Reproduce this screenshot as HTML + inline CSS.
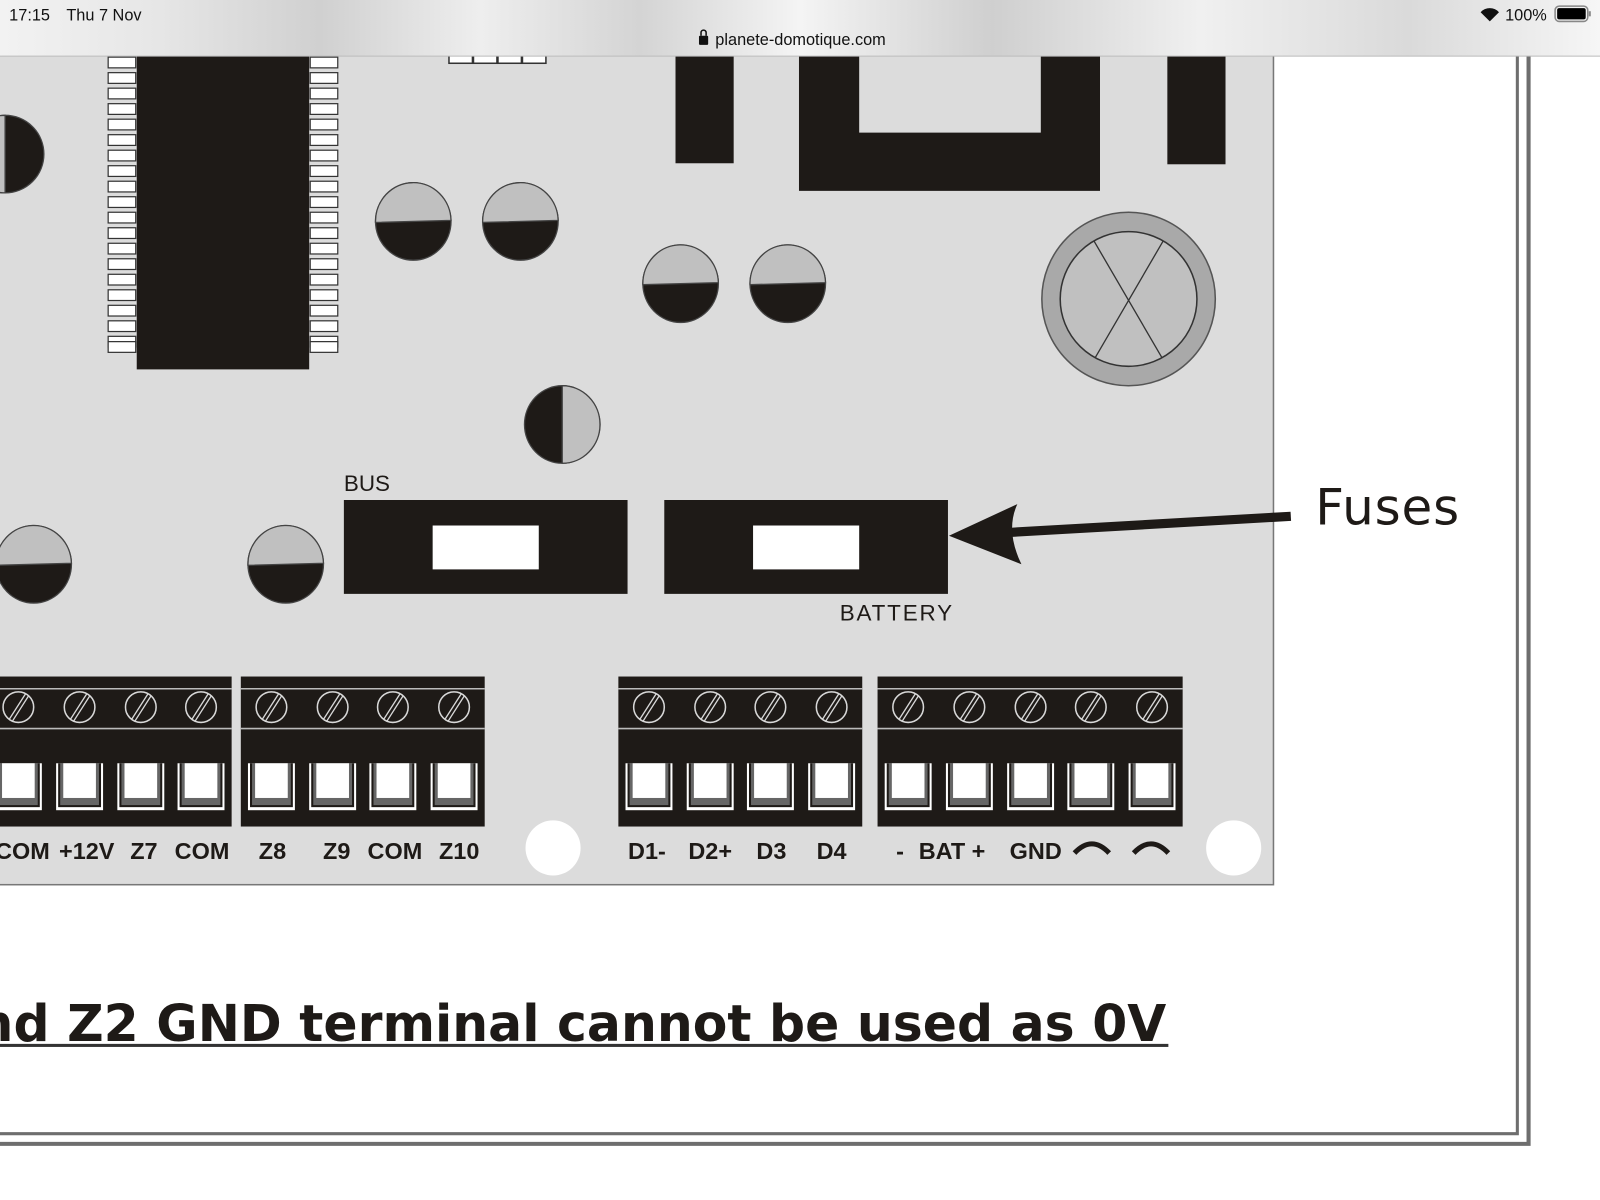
<!DOCTYPE html>
<html><head><meta charset="utf-8"><style>
html,body{margin:0;padding:0;background:#fff;overflow:hidden}
svg{display:block}
</style></head><body>
<svg width="1600" height="1200" viewBox="0 0 1568 1176" preserveAspectRatio="none" xmlns="http://www.w3.org/2000/svg">
<defs>
<linearGradient id="sb" x1="0" x2="1" y1="0" y2="0">
<stop offset="0" stop-color="#f2f2f2"/><stop offset="0.1" stop-color="#e6e6e6"/><stop offset="0.2" stop-color="#d0d0d0"/><stop offset="0.3" stop-color="#eeeeee"/><stop offset="0.4" stop-color="#d4d4d4"/><stop offset="0.5" stop-color="#f4f4f4"/><stop offset="0.62" stop-color="#cfcfcf"/><stop offset="0.75" stop-color="#f0f0f0"/><stop offset="0.88" stop-color="#dadada"/><stop offset="1" stop-color="#f6f6f6"/>
</linearGradient>
<g id="term">
<circle cx="0" cy="693" r="15" fill="none" stroke="#d8d8d8" stroke-width="1.5"/>
<line x1="-9" y1="705" x2="7" y2="680" stroke="#d8d8d8" stroke-width="1.3"/>
<line x1="-6" y1="707" x2="10" y2="682" stroke="#d8d8d8" stroke-width="1.3"/>
<rect x="-23" y="748" width="46" height="46" fill="#fff"/>
<rect x="-21" y="748" width="42" height="43" fill="#1e1a17"/>
<rect x="-19" y="748" width="38" height="41" fill="#666"/>
<rect x="-16" y="748" width="32" height="34" fill="#fff"/>
</g>
<g id="pin"><rect x="0" y="0" width="27" height="10.5" fill="#fff" stroke="#333" stroke-width="1.2"/></g>
</defs>
<rect width="1568" height="1176" fill="#fff"/>
<rect x="-2" y="40" width="1250" height="827" fill="#dcdcdc" stroke="#777" stroke-width="1.5"/>
<path d="M1487 40 V1111 H0" fill="none" stroke="#6e6e6e" stroke-width="3"/>
<path d="M1498 40 V1121 H0" fill="none" stroke="#6e6e6e" stroke-width="4"/>
<g fill="#fff" stroke="#333" stroke-width="1.5">
<rect x="440" y="50" width="23" height="12"/><rect x="464" y="50" width="23" height="12"/><rect x="488" y="50" width="23" height="12"/><rect x="512" y="50" width="23" height="12"/>
</g>
<g>
<use href="#pin" x="106" y="56"/><use href="#pin" x="106" y="71.2"/><use href="#pin" x="106" y="86.4"/><use href="#pin" x="106" y="101.6"/><use href="#pin" x="106" y="116.8"/><use href="#pin" x="106" y="132"/><use href="#pin" x="106" y="147.2"/><use href="#pin" x="106" y="162.4"/><use href="#pin" x="106" y="177.6"/><use href="#pin" x="106" y="192.8"/><use href="#pin" x="106" y="208"/><use href="#pin" x="106" y="223.2"/><use href="#pin" x="106" y="238.4"/><use href="#pin" x="106" y="253.6"/><use href="#pin" x="106" y="268.8"/><use href="#pin" x="106" y="284"/><use href="#pin" x="106" y="299.2"/><use href="#pin" x="106" y="314.4"/><use href="#pin" x="106" y="329.6"/><use href="#pin" x="106" y="334.8"/>
<use href="#pin" x="304" y="56"/><use href="#pin" x="304" y="71.2"/><use href="#pin" x="304" y="86.4"/><use href="#pin" x="304" y="101.6"/><use href="#pin" x="304" y="116.8"/><use href="#pin" x="304" y="132"/><use href="#pin" x="304" y="147.2"/><use href="#pin" x="304" y="162.4"/><use href="#pin" x="304" y="177.6"/><use href="#pin" x="304" y="192.8"/><use href="#pin" x="304" y="208"/><use href="#pin" x="304" y="223.2"/><use href="#pin" x="304" y="238.4"/><use href="#pin" x="304" y="253.6"/><use href="#pin" x="304" y="268.8"/><use href="#pin" x="304" y="284"/><use href="#pin" x="304" y="299.2"/><use href="#pin" x="304" y="314.4"/><use href="#pin" x="304" y="329.6"/><use href="#pin" x="304" y="334.8"/>
</g>
<rect x="134" y="40" width="169" height="322" fill="#1e1a17"/>
<g fill="#1e1a17">
<rect x="662" y="40" width="57" height="120"/>
<path d="M783 40 H1078 V187 H783 Z M842 40 V130 H1020 V40 Z" fill-rule="evenodd"/>
<rect x="1144" y="40" width="57" height="121"/>
</g>
<g stroke="#444" stroke-width="1.3">
<g transform="translate(5,151)"><circle r="38" fill="#1e1a17"/><path d="M0 -38 A38 38 0 0 0 0 38 Z" fill="#c0c0c0"/></g>
<g transform="translate(405,217)"><ellipse rx="37" ry="38" fill="#1e1a17"/><path d="M-37 1 A37 38 0 0 1 37 -1 Z" fill="#c0c0c0"/></g>
<g transform="translate(510,217)"><ellipse rx="37" ry="38" fill="#1e1a17"/><path d="M-37 1 A37 38 0 0 1 37 -1 Z" fill="#c0c0c0"/></g>
<g transform="translate(667,278)"><ellipse rx="37" ry="38" fill="#1e1a17"/><path d="M-37 1 A37 38 0 0 1 37 -1 Z" fill="#c0c0c0"/></g>
<g transform="translate(772,278)"><ellipse rx="37" ry="38" fill="#1e1a17"/><path d="M-37 1 A37 38 0 0 1 37 -1 Z" fill="#c0c0c0"/></g>
<g transform="translate(33,553)"><ellipse rx="37" ry="38" fill="#1e1a17"/><path d="M-37 1 A37 38 0 0 1 37 -1 Z" fill="#c0c0c0"/></g>
<g transform="translate(280,553)"><ellipse rx="37" ry="38" fill="#1e1a17"/><path d="M-37 1 A37 38 0 0 1 37 -1 Z" fill="#c0c0c0"/></g>
<g transform="translate(551,416)"><ellipse rx="37" ry="38" fill="#1e1a17"/><path d="M0 -38 A37 38 0 0 1 0 38 Z" fill="#c0c0c0"/></g>
</g>
<ellipse cx="1106" cy="293" rx="85" ry="85" fill="#a9a9a9" stroke="#555" stroke-width="1.5"/>
<ellipse cx="1106" cy="293" rx="67" ry="66" fill="#c0c0c0" stroke="#333" stroke-width="1.5"/>
<line x1="1072" y1="236" x2="1139" y2="351" stroke="#333" stroke-width="1.3"/>
<line x1="1140" y1="236" x2="1073" y2="351" stroke="#333" stroke-width="1.3"/>
<text x="337" y="481" font-family="Liberation Sans, sans-serif" font-size="22" fill="#1e1a17">BUS</text>
<rect x="337" y="490" width="278" height="92" fill="#1e1a17"/>
<rect x="424" y="515" width="104" height="43" fill="#fff"/>
<rect x="651" y="490" width="278" height="92" fill="#1e1a17"/>
<rect x="738" y="515" width="104" height="43" fill="#fff"/>
<text x="823" y="608" font-family="Liberation Sans, sans-serif" font-size="22" fill="#1e1a17" textLength="110">BATTERY</text>
<line x1="1265" y1="506" x2="985" y2="522" stroke="#1e1a17" stroke-width="9"/>
<path d="M930 525 L997 494 Q985 520 1001 553 Z" fill="#1e1a17"/>
<text x="1289" y="514" font-family="DejaVu Sans, sans-serif" font-size="49" fill="#1e1a17" textLength="141">Fuses</text>
<g fill="#1e1a17">
<rect x="-5" y="663" width="232" height="147"/>
<rect x="236" y="663" width="239" height="147"/>
<rect x="606" y="663" width="239" height="147"/>
<rect x="860" y="663" width="299" height="147"/>
</g>
<g stroke="#bbb" stroke-width="1.5">
<line x1="-5" y1="675" x2="227" y2="675"/><line x1="-5" y1="714" x2="227" y2="714"/>
<line x1="236" y1="675" x2="475" y2="675"/><line x1="236" y1="714" x2="475" y2="714"/>
<line x1="606" y1="675" x2="845" y2="675"/><line x1="606" y1="714" x2="845" y2="714"/>
<line x1="860" y1="675" x2="1159" y2="675"/><line x1="860" y1="714" x2="1159" y2="714"/>
</g>
<use href="#term" x="18"/><use href="#term" x="78"/><use href="#term" x="138"/><use href="#term" x="197"/>
<use href="#term" x="266"/><use href="#term" x="326"/><use href="#term" x="385"/><use href="#term" x="445"/>
<use href="#term" x="636"/><use href="#term" x="696"/><use href="#term" x="755"/><use href="#term" x="815"/>
<use href="#term" x="890"/><use href="#term" x="950"/><use href="#term" x="1010"/><use href="#term" x="1069"/><use href="#term" x="1129"/>
<circle cx="542" cy="831" r="27" fill="#fff"/>
<circle cx="1209" cy="831" r="27" fill="#fff"/>
<g font-family="Liberation Sans, sans-serif" font-weight="bold" font-size="23" fill="#1e1a17" text-anchor="middle">
<text x="22" y="842">COM</text><text x="85" y="842">+12V</text><text x="141" y="842">Z7</text><text x="198" y="842">COM</text>
<text x="267" y="842">Z8</text><text x="330" y="842">Z9</text><text x="387" y="842">COM</text><text x="450" y="842">Z10</text>
<text x="634" y="842">D1-</text><text x="696" y="842">D2+</text><text x="756" y="842">D3</text><text x="815" y="842">D4</text>
<text x="882" y="842">-</text><text x="933" y="842">BAT +</text><text x="1015" y="842">GND</text>
</g>
<path d="M1053 836 Q1070 818 1087 836" fill="none" stroke="#1e1a17" stroke-width="5"/>
<path d="M1111 836 Q1128 818 1145 836" fill="none" stroke="#1e1a17" stroke-width="5"/>
<text x="-22" y="1020" font-family="DejaVu Sans, sans-serif" font-weight="bold" font-size="50" fill="#1e1a17" textLength="1165" lengthAdjust="spacingAndGlyphs">nd Z2 GND terminal cannot be used as 0V</text>
<rect x="0" y="1023" width="1145" height="3" fill="#333"/>
<rect x="0" y="0" width="1568" height="55" fill="url(#sb)"/>
<line x1="0" y1="55" x2="1568" y2="55" stroke="#bbb" stroke-width="1"/>
<text x="9" y="20" font-family="Liberation Sans, sans-serif" font-size="16" fill="#111">17:15</text>
<text x="65" y="20" font-family="Liberation Sans, sans-serif" font-size="16" fill="#111">Thu 7 Nov</text>
<text x="701" y="44" font-family="Liberation Sans, sans-serif" font-size="16" fill="#111">planete-domotique.com</text>
<rect x="685" y="35" width="9" height="9" rx="1" fill="#111"/><path d="M687 35 V32 A2.5 2.5 0 0 1 692 32 V35" fill="none" stroke="#111" stroke-width="1.5"/>
<path d="M1451 12 A12 12 0 0 1 1469 12 L1460 21 Z" fill="#111"/>
<text x="1475" y="20" font-family="Liberation Sans, sans-serif" font-size="16" fill="#111">100%</text>
<rect x="1524" y="6" width="32" height="15" rx="4" fill="none" stroke="#888" stroke-width="1.5"/>
<rect x="1526" y="8" width="28" height="11" rx="2" fill="#000"/>
<rect x="1557" y="11" width="2" height="5" fill="#888"/>
</svg>
</body></html>
